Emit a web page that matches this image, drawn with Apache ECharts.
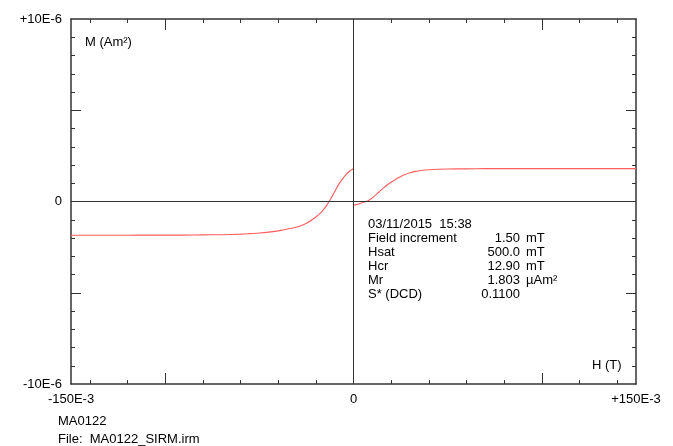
<!DOCTYPE html>
<html>
<head>
<meta charset="utf-8">
<script src="https://cdn.jsdelivr.net/npm/echarts@6/dist/echarts.min.js"></script>
<style>
  html, body { margin: 0; padding: 0; background: #fff; }
  #chart { width: 673px; height: 446px; }
</style>
</head>
<body>
<div id="chart"></div>
<script>
// Field (mT) and moment (µAm²) for the two measured branches
const fieldLeft = [-150, -140, -130, -120, -110, -100, -90, -80, -70, -60, -55, -50, -45, -40, -38, -36, -34, -32, -30, -28, -26, -24, -22, -20, -18, -16, -14, -12, -10, -8, -6, -4, -2, 0];
const momentLeft = [-1.85, -1.85, -1.85, -1.85, -1.84, -1.84, -1.84, -1.83, -1.82, -1.79, -1.76, -1.73, -1.68, -1.61, -1.57, -1.53, -1.48, -1.45, -1.40, -1.33, -1.25, -1.14, -1.00, -0.85, -0.68, -0.46, -0.17, 0.16, 0.54, 0.91, 1.21, 1.47, 1.67, 1.81];

const fieldRight = [0, 1.5, 3, 4.5, 6, 7.5, 9, 10.5, 12, 13.5, 15, 16.5, 18, 19.5, 21, 22.5, 24, 25.5, 27, 30, 33, 36, 40, 45, 50, 60, 70, 80, 90, 100, 110, 120, 130, 140, 150];
const momentRight = [-0.19, -0.17, -0.12, -0.07, -0.02, 0.03, 0.12, 0.24, 0.38, 0.52, 0.66, 0.79, 0.92, 1.03, 1.12, 1.22, 1.31, 1.39, 1.47, 1.58, 1.65, 1.70, 1.74, 1.77, 1.78, 1.79, 1.80, 1.80, 1.80, 1.80, 1.80, 1.80, 1.80, 1.80, 1.80];

// Axis ticks and labels
const xLabelValues = [-150, 0, 150];
const xMinorTicks = [-140, -120, -80, -60, -40, -20, 20, 40, 60, 80, 120, 140];
const xMajorTicks = [-100, 100];
const yLabelValues = [-10, 0, 10];
const yMinorTicks = [-9, -8, -7, -6, -4, -3, -2, -1, 1, 2, 3, 4, 6, 7, 8, 9];
const yMajorTicks = [-5, 5];

// Measurement summary
const infoHeader = '03/11/2015  15:38';
const infoNames = ['Field increment', 'Hsat', 'Hcr', 'Mr', 'S* (DCD)'];
const infoValues = ['1.50', '500.0', '12.90', '1.803', '0.1100'];
const infoUnits = ['mT', 'mT', 'mT', 'µAm²', ''];
const sampleName = 'MA0122';
const fileName = 'File:  MA0122_SIRM.irm';

const FONT = 'Arial, "Liberation Sans", sans-serif';
const AXIS_COLOR = '#333';

function xFmt(v) { return v > 0 ? '+' + v + 'E-3' : (v < 0 ? v + 'E-3' : '0'); }
function yFmt(v) { return v > 0 ? '+' + v + 'E-6' : (v < 0 ? v + 'E-6' : '0'); }

function makeX(position, ticks, len, withLine, withLabels) {
  return {
    type: 'value', position: position, min: -150, max: 150,
    axisLine: { show: withLine, onZero: false, lineStyle: { color: AXIS_COLOR, width: 1.5 } },
    axisTick: { show: true, inside: true, length: len, customValues: ticks, lineStyle: { color: AXIS_COLOR, width: 1 } },
    axisLabel: withLabels ? { show: true, customValues: xLabelValues, formatter: xFmt, margin: 9,
      color: '#000', fontSize: 13, fontFamily: FONT } : { show: false },
    splitLine: { show: false }
  };
}
function makeY(position, ticks, len, withLine, withLabels) {
  return {
    type: 'value', position: position, min: -10, max: 10,
    axisLine: { show: withLine, onZero: false, lineStyle: { color: AXIS_COLOR, width: 1.5 } },
    axisTick: { show: true, inside: true, length: len, customValues: ticks, lineStyle: { color: AXIS_COLOR, width: 1 } },
    axisLabel: withLabels ? { show: true, customValues: yLabelValues, formatter: yFmt, margin: 9,
      color: '#000', fontSize: 13, fontFamily: FONT } : { show: false },
    splitLine: { show: false }
  };
}

const leftData = fieldLeft.map((h, i) => [h, momentLeft[i]]);
const rightData = fieldRight.map((h, i) => [h, momentRight[i]]);

const textStyle = (x, y, text, align) => ({
  type: 'text',
  x: x, y: y,
  style: { text: text, fill: '#000', font: '13px ' + FONT, align: align || 'left', verticalAlign: 'middle' },
  silent: true
});

const graphics = [];
graphics.push(textStyle(85, 42, 'M (Am²)'));
graphics.push(textStyle(592, 365, 'H (T)'));
graphics.push(textStyle(368, 224, infoHeader));
infoNames.forEach((n, i) => {
  const y = 238 + i * 14.2;
  graphics.push(textStyle(368, y, n));
  graphics.push(textStyle(520, y, infoValues[i], 'right'));
  if (infoUnits[i]) graphics.push(textStyle(526, y, infoUnits[i]));
});
graphics.push(textStyle(58, 421, sampleName));
graphics.push(textStyle(58, 439, fileName));

const chart = echarts.init(document.getElementById('chart'), null, { renderer: 'canvas' });
chart.setOption({
  animation: false,
  backgroundColor: '#fff',
  grid: { left: 71, top: 19, width: 565, height: 365, containLabel: false },
  xAxis: [
    makeX('bottom', xMinorTicks, 4, true, true),
    makeX('bottom', xMajorTicks, 11, false, false),
    makeX('top', xMinorTicks, 4, true, false),
    makeX('top', xMajorTicks, 11, false, false)
  ],
  yAxis: [
    makeY('left', yMinorTicks, 4, true, true),
    makeY('left', yMajorTicks, 10, false, false),
    makeY('right', yMinorTicks, 4, true, false),
    makeY('right', yMajorTicks, 10, false, false)
  ],
  series: [
    {
      type: 'line', xAxisIndex: 0, yAxisIndex: 0, data: leftData,
      showSymbol: false, smooth: 0.2,
      lineStyle: { color: '#ff5c5c', width: 1.1 },
      markLine: {
        silent: true, symbol: ['none', 'none'], label: { show: false },
        lineStyle: { color: '#333', width: 1, type: 'solid' },
        data: [{ yAxis: 0 }, { xAxis: 0 }]
      },
      z: 3
    },
    {
      type: 'line', xAxisIndex: 0, yAxisIndex: 0, data: rightData,
      showSymbol: false, smooth: 0.2,
      lineStyle: { color: '#ff5c5c', width: 1.1 },
      z: 3
    }
  ],
  graphic: graphics
});
</script>
</body>
</html>
